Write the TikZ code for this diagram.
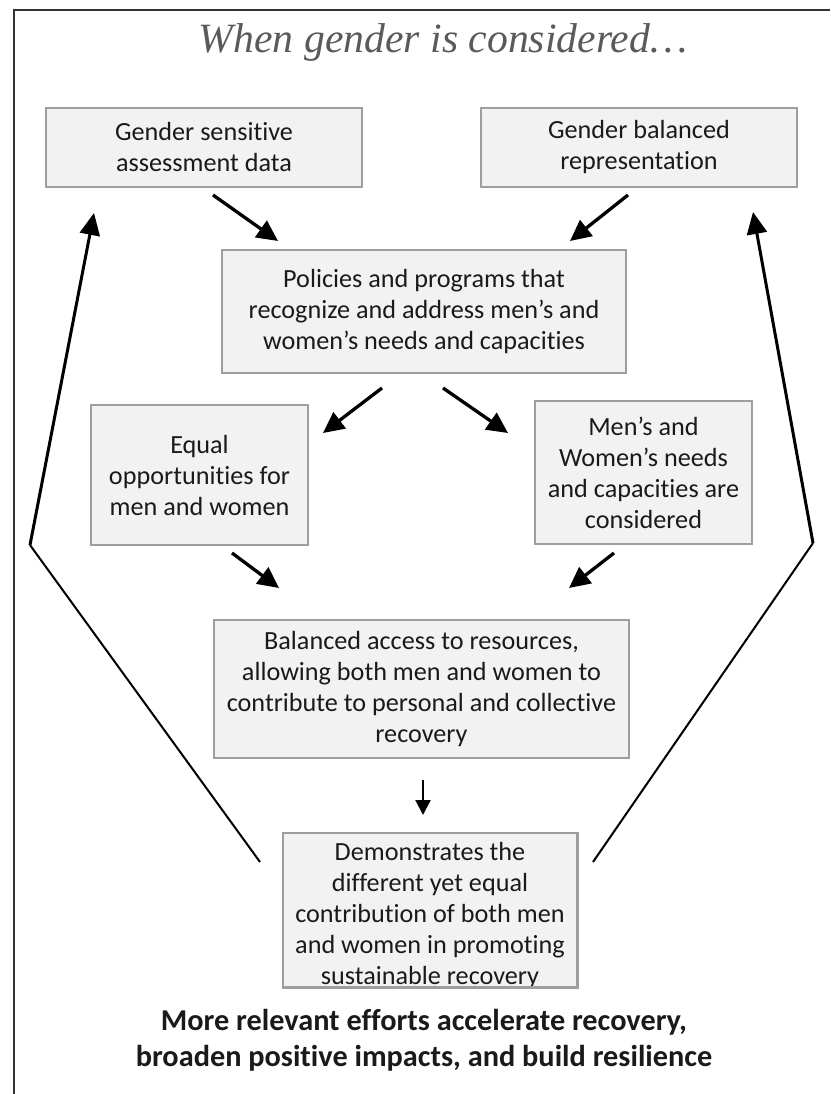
\documentclass[tikz,border=0pt]{standalone}
\usepackage{fontspec}
\setmainfont{Carlito}[RawFeature={-liga;-clig;-dlig;-calt}]
\newfontfamily\titlefont{Liberation Serif}
\usetikzlibrary{arrows.meta}
\definecolor{boxfill}{HTML}{F2F2F2}
\definecolor{boxline}{HTML}{9E9E9E}
\definecolor{txt}{HTML}{1A1A1A}
\definecolor{titlegray}{HTML}{5A5A5A}
\definecolor{framec}{HTML}{333333}
\tikzset{
  box/.style={draw=boxline, line width=2.6pt, fill=boxfill, inner sep=0pt,
    align=center, text=txt, font=\fontsize{26.2}{31}\selectfont},
  boxbg/.style={fill=boxfill, inner sep=0pt},
  boxtext/.style={inner sep=0pt, align=center, text=txt, font=\fontsize{26.2}{31}\selectfont},
  arr/.style={line width=3.3pt, -{Triangle[length=21pt,width=20pt]}},
  smallarr/.style={line width=2.2pt, -{Triangle[length=15pt,width=15pt]}},
  longarr/.style={line width=3pt, -{Triangle[length=22pt,width=20pt]}},
  thinline/.style={line width=2pt},
  frameline/.style={line width=2pt, draw=framec}
}
\begin{document}
\begin{tikzpicture}[x=1pt,y=-1pt]
\useasboundingbox (0,0) rectangle (830,1094);
% frame
\coordinate (fbl) at (14,1094);
\coordinate (ftl) at (14,10);
\coordinate (ftr) at (830,10);
\draw[frameline] (fbl) -- (ftl) -- (ftr);
% title
\node[anchor=base, text=titlegray, inner sep=0pt, font=\titlefont\itshape\fontsize{41.7}{48}\selectfont] (title) at (443,53) {When gender is considered…};
% boxes
\node[box, minimum width=316, minimum height=79] (n1) at (204,147.5) {Gender sensitive\\assessment data};
\node[box, minimum width=316, minimum height=79] (n2) at (639,147.5) {Gender balanced\\representation};
\node[box, minimum width=404, minimum height=123] (n3) at (424,311.5) {Policies and programs that\\recognize and address men’s and\\women’s needs and capacities};
\node[box, minimum width=217, minimum height=140] (n4) at (199.5,475) {Equal\\opportunities for\\men and women};
\node[box, minimum width=217, minimum height=143] (n5) at (643.5,472.5) {Men’s and\\Women’s needs\\and capacities are\\considered};
\node[box, minimum width=415, minimum height=138] (n6) at (421.5,689) {Balanced access to resources,\\allowing both men and women to\\contribute to personal and collective\\recovery};
\node[boxbg, minimum width=294, minimum height=154] (n7) at (430,910) {};
\begin{scope}
  \clip (n7.south west) rectangle (n7.north east);
  \node[boxtext] (n7t) at (430,915.5) {Demonstrates the\\different yet equal\\contribution of both men\\and women in promoting\\sustainable recovery};
\end{scope}
\draw[draw=boxline, line width=2.6pt] (n7.south west) rectangle (n7.north east);
% bottom statement
\node[inner sep=0pt, align=center, text=txt, font=\bfseries\fontsize{30.3}{36}\selectfont] (concl) at (424,1040) {More relevant efforts accelerate recovery,\\broaden positive impacts, and build resilience};
% short arrows
\coordinate (a1s) at (213,195); \coordinate (a1e) at (278,241);
\coordinate (a2s) at (628,195); \coordinate (a2e) at (570,241);
\coordinate (a3s) at (382,388); \coordinate (a3e) at (323,433);
\coordinate (a4s) at (443,388); \coordinate (a4e) at (508,433);
\coordinate (a5s) at (232,553); \coordinate (a5e) at (279,588);
\coordinate (a6s) at (614,553); \coordinate (a6e) at (569,588);
\coordinate (a7s) at (423,780); \coordinate (a7e) at (423,815);
\draw[arr] (a1s) -- (a1e);
\draw[arr] (a2s) -- (a2e);
\draw[arr] (a3s) -- (a3e);
\draw[arr] (a4s) -- (a4e);
\draw[arr] (a5s) -- (a5e);
\draw[arr] (a6s) -- (a6e);
\draw[smallarr] (a7s) -- (a7e);
% long feedback arrows
\coordinate (lst) at (260,862); \coordinate (lcor) at (30,545); \coordinate (ltip) at (94,213);
\coordinate (rst) at (593,862); \coordinate (rcor) at (813,543); \coordinate (rtip) at (753,212);
\draw[thinline] (lst) -- (lcor);
\draw[longarr] (lcor) -- (ltip);
\draw[thinline] (rst) -- (rcor);
\draw[longarr] (rcor) -- (rtip);
\end{tikzpicture}
\end{document}
